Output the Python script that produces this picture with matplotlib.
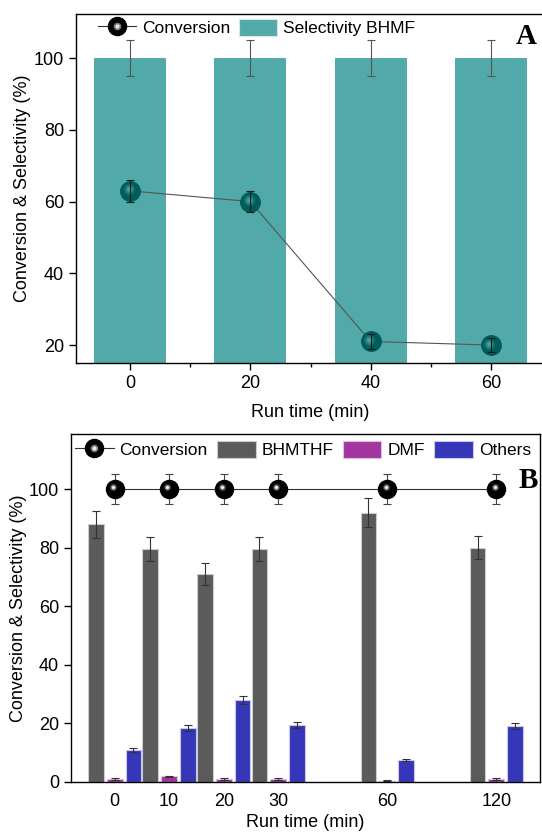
import numpy as np
import matplotlib.pyplot as plt
from matplotlib.lines import Line2D
from matplotlib.patches import Patch
from matplotlib.legend_handler import HandlerTuple
from matplotlib.ticker import FixedLocator
from matplotlib.transforms import offset_copy

plt.rcParams['font.family'] = ['Liberation Sans', 'DejaVu Sans']

# panel A data
time_a = [0, 20, 40, 60]
select_bhmf = [100, 100, 100, 100]
select_bhmf_err = [5, 5, 5, 5]
conv_a = [63, 60, 21, 20]
conv_a_err = [3, 3, 2, 2]

# panel B data
time_b_labels = ['0', '10', '20', '30', '60', '120']
time_b_pos = [0, 1, 2, 3, 5, 7]
conv_b = [100, 100, 100, 100, 100, 100]
conv_b_err = [5, 5, 5, 5, 5, 5]
bhmthf = [88, 79.5, 71, 79.5, 92, 80]
bhmthf_err = [4.6, 4.0, 3.8, 4.0, 4.8, 4.0]
dmf = [1.0, 2.0, 1.0, 1.0, 0.5, 1.0]
dmf_err = [0.2, 0.2, 0.2, 0.2, 0.1, 0.2]
others = [11, 18.5, 28, 19.5, 7.5, 19]
others_err = [0.7, 1.1, 1.5, 1.0, 0.4, 1.0]

teal = '#52a9a9'
dark_teal = '#005c58'
gray = '#5b5b5b'
purple = '#a2359e'
blue = '#3636b8'

fig = plt.figure(figsize=(5.42, 8.32), dpi=100)


def sphere(ax, x, y, base, layers, size, z, big=0.5, small=0.15, shift=1.5):
    ax.plot(x, y, 'o', ms=size, color=base, mec=base, zorder=z, linestyle='none')
    tr = offset_copy(ax.transData, fig=fig, x=-shift, y=shift, units='dots')
    n = len(layers)
    for i, c in enumerate(layers):
        s = size * (big - (big - small) * i / max(n - 1, 1))
        ax.plot(x, y, 'o', ms=s, color=c, mec='none', zorder=z + 0.1 * (i + 1),
                linestyle='none', transform=tr)


def style_axes(ax):
    for sp in ax.spines.values():
        sp.set_linewidth(1.0)
    ax.tick_params(direction='out', length=5, width=1, labelsize=13)


# ---------------- panel A ----------------
ax1 = fig.add_axes([76 / 542, 1 - 363 / 832, 469 / 542, 349 / 832])
ax1.bar(time_a, select_bhmf, width=12, color=teal, bottom=0, zorder=1)
ax1.errorbar(time_a, select_bhmf, yerr=select_bhmf_err, fmt='none', ecolor='#555555',
             elinewidth=0.8, capsize=3, capthick=0.8, zorder=2)
ax1.plot(time_a, conv_a, '-', color='#555555', lw=0.8, zorder=3)
teal_layers = ['#0a6662', '#16736f', '#24817c', '#34908a', '#4aa19b']
sphere(ax1, time_a, conv_a, dark_teal, teal_layers, 14, 4, big=0.62, small=0.2)
ax1.errorbar(time_a, conv_a, yerr=conv_a_err, fmt='none', ecolor='#1a1a1a',
             elinewidth=0.8, capsize=3, capthick=0.8, zorder=5)
ax1.set_xlim(-9, 69)
ax1.set_ylim(15, 112.3)
ax1.set_xticks(time_a)
ax1.xaxis.set_minor_locator(FixedLocator([10, 30, 50]))
ax1.set_yticks([20, 40, 60, 80, 100])
style_axes(ax1)
ax1.tick_params(which='minor', direction='out', length=3, width=1)
ax1.spines['right'].set_visible(False)
ax1.set_xlabel('Run time (min)', fontsize=13, labelpad=9)
ax1.set_ylabel('Conversion & Selectivity (%)', fontsize=13, labelpad=2)
ax1.text(0.983, 0.975, 'A', transform=ax1.transAxes, ha='right', va='top',
         fontsize=21, fontweight='bold', family='Liberation Serif')

h_conv_a = (Line2D([], [], color='#333333', lw=0.8, marker='o', ms=13,
                   mfc='black', mec='black'),
            Line2D([], [], ls='none', marker='o', ms=5.5, mfc='#777777', mec='none'),
            Line2D([], [], ls='none', marker='o', ms=3, mfc='#e5e5e5', mec='none'))
h_sel = Patch(facecolor=teal, edgecolor='#cfe8e8', lw=0.8)
ax1.legend([h_conv_a, h_sel], ['Conversion', 'Selectivity BHMF'],
           handler_map={tuple: HandlerTuple(ndivide=1, pad=0)},
           loc='upper left', bbox_to_anchor=(0.024, 1.015), ncol=2, frameon=False,
           fontsize=12.5, handlelength=2.2, handleheight=1.1, handletextpad=0.35,
           columnspacing=0.5, borderaxespad=0.2)

# ---------------- panel B ----------------
ax2 = fig.add_axes([71 / 542, 1 - 782 / 832, 469 / 542, 348 / 832])
pos = np.array(time_b_pos, dtype=float)
w = 0.29
off = 0.345
ax2.bar(pos - off, bhmthf, width=w, color=gray, edgecolor='#cccccc', lw=0.8, zorder=1)
ax2.bar(pos, dmf, width=w, color=purple, edgecolor='#e0c0e0', lw=0.8, zorder=1)
ax2.bar(pos + off, others, width=w, color=blue, edgecolor='#c8c8ee', lw=0.8, zorder=1)
ax2.errorbar(pos - off, bhmthf, yerr=bhmthf_err, fmt='none', ecolor='#333333',
             elinewidth=0.8, capsize=3, capthick=0.8, zorder=2)
ax2.errorbar(pos, dmf, yerr=dmf_err, fmt='none', ecolor='#333333',
             elinewidth=0.8, capsize=3, capthick=0.8, zorder=2)
ax2.errorbar(pos + off, others, yerr=others_err, fmt='none', ecolor='#333333',
             elinewidth=0.8, capsize=3, capthick=0.8, zorder=2)
ax2.errorbar(pos, conv_b, yerr=conv_b_err, fmt='none', ecolor='#444444',
             elinewidth=0.8, capsize=3, capthick=0.8, zorder=3)
ax2.plot(pos, conv_b, '-', color='#333333', lw=0.8, zorder=3)
black_layers = ['#151515', '#2e2e2e', '#555555', '#8c8c8c', '#cfcfcf', '#ffffff']
sphere(ax2, pos, conv_b, 'black', black_layers, 13, 4, big=0.45, small=0.12, shift=1.8)
ax2.set_xlim(-0.8, 7.8)
ax2.set_ylim(0, 118.8)
ax2.set_xticks(time_b_pos)
ax2.set_xticklabels(time_b_labels)
ax2.set_yticks([0, 20, 40, 60, 80, 100])
style_axes(ax2)
ax2.tick_params(axis='x', which='major', length=0, pad=8)
ax2.xaxis.set_minor_locator(FixedLocator([0]))
ax2.tick_params(axis='x', which='minor', direction='out', length=5, width=1)
ax2.set_xlabel('Run time (min)', fontsize=13, labelpad=3)
ax2.set_ylabel('Conversion & Selectivity (%)', fontsize=13, labelpad=1.5)
ax2.text(0.995, 0.905, 'B', transform=ax2.transAxes, ha='right', va='top',
         fontsize=21, fontweight='bold', family='Liberation Serif')

h_conv_b = (Line2D([], [], color='#333333', lw=0.8, marker='o', ms=13,
                   mfc='black', mec='black'),
            Line2D([], [], ls='none', marker='o', ms=5.5, mfc='#777777', mec='none'),
            Line2D([], [], ls='none', marker='o', ms=3, mfc='#eeeeee', mec='none'))
h_b1 = Patch(facecolor=gray, edgecolor='#cccccc', lw=0.8)
h_b2 = Patch(facecolor=purple, edgecolor='#e0c0e0', lw=0.8)
h_b3 = Patch(facecolor=blue, edgecolor='#c8c8ee', lw=0.8)
ax2.legend([h_conv_b, h_b1, h_b2, h_b3], ['Conversion', 'BHMTHF', 'DMF', 'Others'],
           handler_map={tuple: HandlerTuple(ndivide=1, pad=0)},
           loc='upper left', bbox_to_anchor=(-0.013, 1.01), ncol=4, frameon=False,
           fontsize=12.5, handlelength=2.2, handleheight=1.15, handletextpad=0.35,
           columnspacing=0.55, borderaxespad=0.2)

fig.savefig('out.png', dpi=100)
